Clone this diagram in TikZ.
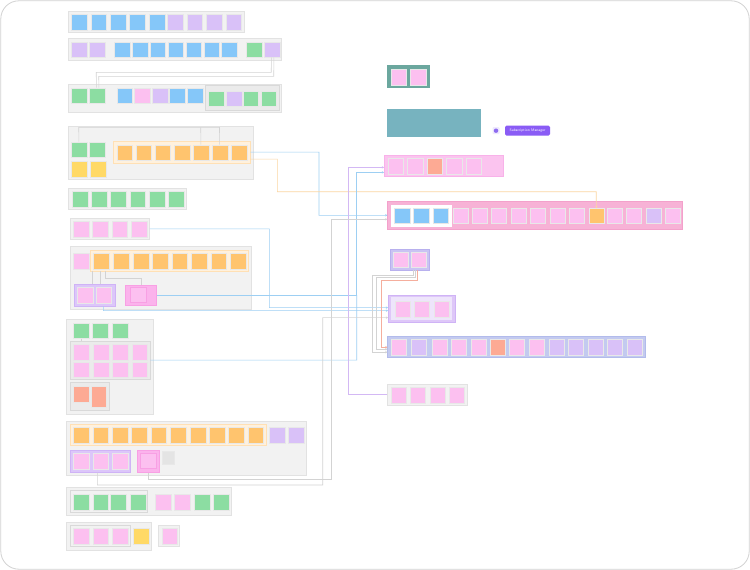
\documentclass[tikz,border=0pt]{standalone}
\usetikzlibrary{fit,arrows.meta}
\definecolor{cB}{HTML}{85C7F9}
\definecolor{cP}{HTML}{D9C1F8}
\definecolor{cG}{HTML}{8CDDA2}
\definecolor{cK}{HTML}{FCC0F0}
\definecolor{cO}{HTML}{FFC46E}
\definecolor{cY}{HTML}{FFD966}
\definecolor{cS}{HTML}{FDAA94}
\definecolor{cN}{HTML}{E4E4E4}
\definecolor{frF}{HTML}{F2F2F2}
\definecolor{frD}{HTML}{E2E2E2}
\definecolor{inF}{HTML}{EBEBEB}
\definecolor{inD}{HTML}{D9D9D9}
\definecolor{orF}{HTML}{FFF1DD}
\definecolor{orD}{HTML}{FFE0B5}
\definecolor{puF}{HTML}{DCC6FA}
\definecolor{puD}{HTML}{CFB3F6}
\definecolor{pkF}{HTML}{FBB3EC}
\definecolor{pkD}{HTML}{F8A0E4}
\definecolor{pk1F}{HTML}{FBC4EF}
\definecolor{pk1D}{HTML}{F8B2E9}
\definecolor{bpF}{HTML}{F7B2D6}
\definecolor{bpD}{HTML}{F3A1CB}
\definecolor{spF}{HTML}{C9C3F3}
\definecolor{spD}{HTML}{B8B0EE}
\definecolor{p2F}{HTML}{DEC7F8}
\definecolor{p2I}{HTML}{EEE5FB}
\definecolor{wbF}{HTML}{C3CAF0}
\definecolor{wbD}{HTML}{B2BBEB}
\definecolor{tlA}{HTML}{6BA79E}
\definecolor{tlB}{HTML}{77B3BF}
\definecolor{btn}{HTML}{8A5CF5}
\definecolor{icoA}{HTML}{8E6CF0}
\definecolor{icoB}{HTML}{EFEAFD}
\definecolor{lnB}{HTML}{9DCFF3}
\definecolor{lnG}{HTML}{D3D3D3}
\definecolor{lnP}{HTML}{D3B8F4}
\definecolor{lnO}{HTML}{FBD6A2}
\definecolor{lnS}{HTML}{F5AE9D}
\definecolor{outer}{HTML}{D2D2D2}
\tikzset{
  note/.style={rectangle, anchor=north west, inner sep=0pt, minimum width=15.5pt, minimum height=15.5pt, draw=black!9, line width=0.3pt},
  grp/.style={rectangle, inner sep=0pt, draw=frD, fill=frF, line width=0.5pt},
  ingrp/.style={draw=inD, fill=inF},
  orgrp/.style={draw=orD, fill=orF},
  pugrp/.style={draw=puD, fill=puF},
  pkgrp/.style={draw=pkD, fill=pkF},
  ln/.style={line width=0.6pt},
  tip/.style={-{Stealth[length=2.2pt,width=2.2pt]}},
}
\newcommand\grpbox[6]{\node[grp,#2,fit={(#3,#4) (#5,#6)}] (#1) {};}
\newcommand\stick[5][]{\node[note,fill=#3,#1] (#2) at (#4,#5) {};}
\begin{document}
\begin{tikzpicture}[x=1pt,y=-1pt]
\useasboundingbox (0,0) rectangle (750,570);
\fill[white] (0,0) rectangle (750,570);
\draw[rounded corners=18pt, draw=outer, line width=0.8pt, fill=white] (0.8,0.8) rectangle (749.2,569.2);

% ---------- Row 1
\grpbox{r1}{}{68.3}{11}{244}{32}
\foreach \x/\c [count=\i] in {71/cB,90.7/cB,110/cB,129.3/cB,149/cB,167.3/cP,186.7/cP,206/cP,225.7/cP}
  {\stick{r1n\i}{\c}{\x}{14}}

% ---------- Row 2
\grpbox{r2}{}{68.3}{38.3}{281.7}{60}
\foreach \x/\c [count=\i] in {71/cP,89/cP,114/cB,132/cB,149.7/cB,167.7/cB,185.7/cB,203.7/cB,221.3/cB,246/cG,264/cP}
  {\stick{r2n\i}{\c}{\x}{41.7}}

% ---------- Row 3
\grpbox{r3}{}{68.3}{84.3}{281.7}{112.7}
\foreach \x/\c [count=\i] in {71/cG,89/cG,116.7/cB,134/cK,152.3/cP,169.3/cB,187/cB}
  {\stick{r3n\i}{\c}{\x}{87.7}}
\grpbox{r3i}{ingrp}{205}{85.7}{279}{110}
\foreach \x/\c [count=\i] in {208/cG,226/cP,242.7/cG,260.7/cG}
  {\stick{r3m\i}{\c}{\x}{90.7}}

% ---------- Row 4
\grpbox{r4}{}{68.3}{126}{253.3}{179.3}
\stick{r4g1}{cG}{71}{141.7}
\stick{r4g2}{cG}{89.3}{141.7}
\stick{r4y1}{cY}{71}{161}
\stick{r4y2}{cY}{90}{161}
\grpbox{r4o}{orgrp}{113.3}{141}{250}{163.3}
\foreach \x [count=\i] in {116.7,135.7,154.7,174.3,193,212,231.3}
  {\stick{r4n\i}{cO}{\x}{144.7}}

% ---------- Row 5
\grpbox{r5}{}{68.3}{188.3}{186.7}{209.3}
\foreach \x [count=\i] in {72.3,91,110,129.7,149,168.3}
  {\stick{r5n\i}{cG}{\x}{191}}

% ---------- Row 6
\grpbox{r6}{}{70}{218.3}{149.3}{239.3}
\foreach \x [count=\i] in {73.3,92.3,111.7,131}
  {\stick{r6n\i}{cK}{\x}{221}}

% ---------- Row 7
\grpbox{r7}{}{70}{246.7}{251.7}{309}
\stick{r7a}{cK}{73.3}{253.3}
\grpbox{r7o}{orgrp}{90.7}{250}{248.3}{271}
\foreach \x [count=\i] in {93.3,113.3,133,152.3,171.7,191.3,210.7,230}
  {\stick{r7n\i}{cO}{\x}{253.3}}
\grpbox{r7p}{pugrp}{74}{284.3}{115.7}{306}
\stick{r7p1}{cK}{77.3}{287.3}
\stick{r7p2}{cK}{95.7}{287.3}
\grpbox{r7k}{pkgrp}{125}{285}{156.7}{305}
\stick[draw=pkD]{r7k1}{cK}{130}{286.7}

% ---------- Row 8
\grpbox{r8}{}{66.7}{319}{153.3}{414}
\foreach \x [count=\i] in {73.3,92.3,112.3}
  {\stick{r8g\i}{cG}{\x}{322.7}}
\grpbox{r8i}{ingrp}{70}{341}{150}{379.3}
\foreach \x [count=\i] in {73.3,93.3,112.3,131.7}
  {\stick{r8a\i}{cK}{\x}{344}
   \stick{r8b\i}{cK}{\x}{361.7}}
\grpbox{r8s}{ingrp}{70}{382.7}{109}{410.7}
\stick{r8s1}{cS}{73.3}{386}
\stick[minimum width=15pt,minimum height=21.3pt]{r8s2}{cS}{90.7}{386}

% ---------- Row 9
\grpbox{r9}{}{66.7}{421}{306.7}{475.7}
\grpbox{r9o}{orgrp}{70}{424}{266.7}{445.7}
\foreach \x [count=\i] in {73.3,92.7,112.3,131.3,150.7,170.3,190,209,228.3,247.7}
  {\stick{r9n\i}{cO}{\x}{427.3}}
\stick{r9q1}{cP}{269}{427.3}
\stick{r9q2}{cP}{288.3}{427.3}
\grpbox{r9p}{pugrp}{70}{450.7}{130.7}{472.3}
\foreach \x [count=\i] in {73.3,92.7,112.3}
  {\stick{r9p\i}{cK}{\x}{453.3}}
\grpbox{r9k}{pkgrp}{137.3}{450.7}{159}{472.3}
\stick[draw=pkD,minimum width=16pt,minimum height=15pt]{r9k1}{cK}{140}{453.3}
\stick[minimum width=12.7pt,minimum height=13pt]{r9g}{cN}{161.7}{451}

% ---------- Row 10
\grpbox{r10}{}{66.7}{487.3}{231.7}{515.7}
\grpbox{r10i}{ingrp,fill=frF}{70}{490}{147.7}{512.3}
\foreach \x/\c [count=\i] in {73.3/cG,92.7/cG,110.3/cG,130/cG,155/cK,174.3/cK,194/cG,213.3/cG}
  {\stick{r10n\i}{\c}{\x}{494}}

% ---------- Row 11
\grpbox{r11}{}{66.7}{522.3}{151.7}{550}
\grpbox{r11i}{ingrp,fill=frF}{70}{525}{130.7}{546.7}
\foreach \x [count=\i] in {73.3,92.7,112.3}
  {\stick{r11n\i}{cK}{\x}{528.3}}
\stick{r11y}{cY}{133.3}{528.3}
\grpbox{r11b}{}{158.3}{525}{179.3}{546.7}
\stick[minimum width=15pt]{r11k}{cK}{161.7}{528.3}

% ---------- Right column
\grpbox{t1}{draw=tlA,fill=tlA}{387.7}{65.7}{429}{87.3}
\stick{t1a}{cK}{390.7}{69}
\stick{t1b}{cK}{410.3}{69}
\grpbox{t2}{draw=tlB,fill=tlB}{387.7}{109.3}{480.7}{136}
\node[rectangle, rounded corners=1pt, fill=icoB, minimum size=7pt, inner sep=0pt] (icobg) at (496,130.7) {};
\node[circle, fill=icoA, minimum size=4.5pt, inner sep=0pt] (ico) at (496,130.7) {};
\node[rectangle, rounded corners=1.5pt, fill=btn, minimum width=45pt, minimum height=10pt, inner sep=0pt,
      text=white, font=\sffamily\fontsize{3.7}{4}\selectfont] (sub) at (527.5,130.7) {Subscription Manager};

\grpbox{pk1}{draw=pk1D,fill=pk1F}{384.3}{155}{503.3}{176.7}
\foreach \x/\c [count=\i] in {387.7/cK,407.3/cK,426.7/cS,446/cK,465.7/cK}
  {\stick[minimum width=15.5pt,minimum height=16pt]{pk1n\i}{\c}{\x}{158.3}}

\grpbox{bp}{draw=bpD,fill=bpF}{387.7}{201.7}{682.7}{229}
\grpbox{bpi}{draw=white,fill=white}{391}{205}{451}{226}
\foreach \x [count=\i] in {394,413.3,432.7}
  {\stick{bpb\i}{cB}{\x}{207.7}}
\foreach \x/\c [count=\i] in {452.7/cK,472/cK,491.3/cK,510.7/cK,530/cK,549.7/cK,569/cK,588.7/cO,607.3/cK,626.3/cK,645.7/cP,665/cK}
  {\stick[minimum width=15pt,minimum height=15pt]{bpn\i}{\c}{\x}{208.3}}

\grpbox{sp}{draw=spD,fill=spF}{390}{249}{429}{270}
\stick[minimum width=15pt,minimum height=15pt]{sp1}{cK}{393.3}{252.3}
\stick[minimum width=15pt,minimum height=15pt]{sp2}{cK}{410.7}{252.3}

\grpbox{pf2}{draw=puD,fill=p2F}{388.3}{295}{455}{322.3}
\grpbox{pf2i}{draw=p2I,fill=p2I}{391.7}{297.7}{451.7}{319}
\foreach \x [count=\i] in {395,414.3,434}
  {\stick[minimum width=15pt,minimum height=15.7pt]{pf2n\i}{cK}{\x}{301}}

\grpbox{wb}{draw=wbD,fill=wbF}{387.7}{336.7}{645}{357.7}
\foreach \x/\c [count=\i] in {391/cK,411/cP,431.7/cK,451/cK,470.7/cK,490/cS,509.3/cK,528.7/cK,549/cP,568.3/cP,587.7/cP,607/cP,626.7/cP}
  {\stick[minimum width=15pt,minimum height=15.7pt]{wbn\i}{\c}{\x}{339.3}}

\grpbox{gb}{}{387.7}{384}{467.3}{405}
\foreach \x [count=\i] in {391,410.3,430,449.3}
  {\stick[minimum width=15pt,minimum height=16pt]{gbn\i}{cK}{\x}{386.7}}

% ---------- Connectors
% row 2 -> row 3
\draw[ln,draw=lnG] ([xshift=-0.5pt]r2n11.south) -- (271.25,72.3) -- (96.25,72.3) -- ([xshift=-0.5pt]r3n2.north);
\draw[ln,draw=lnG] ([xshift=2pt]r2n11.south) -- (273.75,76.3) -- (98.75,76.3) -- ([xshift=2pt]r3n2.north);
% row 4 internal
\draw[ln,draw=lnG] (r4g1.north) -- (78.75,127.3) -- (219.5,127.3) -- ([xshift=-0.25pt]r4n6.north);
\draw[ln,draw=lnG] (200.75,127.3) -- (r4n5.north);
% row 7 internal
\draw[ln,draw=lnG] (92.7,271) -- (92.7,284.3);
\draw[ln,draw=lnG] (100.7,271) -- (100.7,284.3);
\draw[ln,draw=lnG] (105.7,271) -- (105.7,278.3) -- (141.7,278.3) -- (141.7,285);
% row 8 internal
\draw[ln,draw=lnG] (r8g1.south) -- (r8g1.south |- r8i.north);
% long connectors
\draw[ln,tip,draw=lnB] (r4o.east) -- (319,152.15) -- (319,215.35) -- (bp.west);
\draw[ln,tip,draw=lnO] ([yshift=-7pt]r4o.east) -- (277.3,159.15) -- (277.3,191.7) -- (596.2,191.7) -- (bpn8.north);
\draw[ln,tip,draw=lnB] (r6.east) -- (269.3,228.8) -- (269.3,307.65) -- ([yshift=1pt]pf2.west);
\draw[ln,tip,draw=lnB] ([xshift=8.5pt]r7p.south) -- (103.35,310.65) -- ([yshift=-2pt]pf2.west);
\draw[ln,tip,draw=lnB] (r7k.east) -- (356.7,295) -- (356.7,172.35) -- ([yshift=-6.5pt]pk1.west);
\draw[ln,draw=lnB] (r8i.east) -- (356.7,360.15) -- (356.7,295);
\draw[ln,tip,draw=lnP] (gb.west) -- (348.3,394.5) -- (348.3,167.35) -- ([yshift=-1.5pt]pk1.west);
\draw[ln,tip,draw=lnG] ([xshift=-3pt]r9p.south) -- (97.35,485) -- (322.7,485) -- (322.7,317.65) -- ([yshift=-9pt]pf2.west);
\draw[ln,tip,draw=lnG] (r9k.south) -- (148.15,479.3) -- (331.7,479.3) -- (331.7,219.35) -- ([yshift=-4pt]bp.west);
\draw[ln,tip,draw=lnG] ([xshift=3.8pt]sp.south) -- (413.3,275) -- (372.7,275) -- (372.7,352.2) -- ([yshift=-5pt]wb.west);
\draw[ln,tip,draw=lnG] ([xshift=6.2pt]sp.south) -- (415.7,277.3) -- (376.7,277.3) -- (376.7,349.2) -- ([yshift=-2pt]wb.west);
\draw[ln,tip,draw=lnS] ([xshift=8.2pt]sp.south) -- (417.7,280) -- (381,280) -- (381,347.2) -- (wb.west);
\end{tikzpicture}
\end{document}
